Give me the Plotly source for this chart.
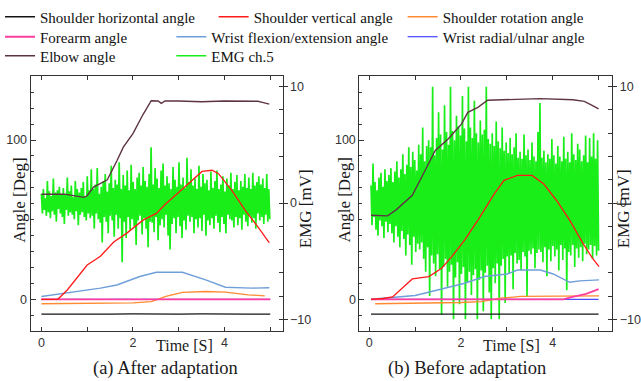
import plotly.graph_objects as go

W, H = 641, 381

# ---------------- data: (a) After adaptation ----------------
SH_T_A = [0, 0.5, 1.0, 1.5, 2.0, 2.5, 3.0, 3.5, 4.0, 4.5, 5.0]
SH_A = [-9.3, -9.4, -9.3, -9.3, -9.2, -9.4, -9.3, -9.2, -9.4, -9.3, -9.3]
SV_T_A = [0, 0.36, 0.57, 0.79, 1.0, 1.29, 1.58, 1.86, 2.22, 2.51, 2.72, 3.01, 3.3, 3.51, 3.73, 3.87, 4.16, 4.45, 4.73, 4.98]
SV_A = [0, 0, 6, 14, 21.5, 27, 36, 41.4, 49.7, 53.9, 60, 67.4, 74.7, 80.3, 81, 78.9, 68.4, 56, 45.5, 35.5]
SR_T_A = [0, 0.5, 1.0, 1.5, 2.0, 2.4, 2.72, 3.08, 3.59, 4.02, 4.52, 4.88]
SR_A = [-2.8, -2.7, -2.6, -2.5, -2.2, -1.4, 1.8, 4.3, 4.9, 4.5, 2.8, 2.2]
FA_T_A = [0, 2.5, 5.0]
FA_A = [0, 0, 0]
WFE_T_A = [0, 0.57, 1.29, 1.65, 2.15, 2.51, 3.08, 3.59, 4.02, 4.59, 4.98]
WFE_A = [1.8, 3.9, 7, 9, 14.3, 17, 17, 12.2, 7.6, 7, 7.3]
WRU_T_A = [0, 2.5, 5.0]
WRU_A = [0, 0, 0]
EL_T_A = [0, 0.5, 0.93, 1.0, 1.14, 1.3, 1.44, 1.65, 1.79, 2.0, 2.22, 2.40, 2.55, 2.62, 2.7, 3.0, 3.5, 4.0, 4.5, 4.73, 4.85, 4.98]
EL_A = [66, 66, 64, 65, 70.5, 73, 75, 87, 95.5, 104, 116, 124.7, 124.5, 123, 124.5, 124.5, 124, 124.5, 124.5, 124.3, 123.5, 122.5]
EMG_START_A, EMG_END_A = 0.0, 4.99
EMG_A = [
    0.8, -0.9, 1.2, -0.6, 0.4, -1.1, 1.9, -0.8, 1.0, -1.3,
    0.6, -0.7, 2.1, -1.0, 0.9, -1.6, 1.1, -0.5, 1.4, -0.9,
    0.7, -1.2, 1.3, -1.8, 0.8, -0.6, 2.2, -1.1, 1.0, -0.8,
    1.5, -1.0, 0.5, -1.4, 1.9, -0.7, 1.2, -1.9, 0.9, -1.0,
    1.3, -0.8, 1.8, -1.2, 0.6, -1.5, 2.3, -0.9, 1.1, -1.3,
    2.9, -1.1, 1.2, -2.2, 1.6, -0.9, 3.0, -1.4, 0.8, -1.7,
    1.4, -3.4, 1.9, -1.2, 2.5, -1.6, 1.0, -2.6, 1.7, -1.1,
    3.2, -1.5, 1.3, -2.9, 2.0, -1.0, 1.6, -2.2, 3.5, -1.3,
    1.2, -5.1, 2.4, -1.6, 1.5, -3.0, 2.8, -1.2, 1.1, -2.4,
    3.3, -1.4, 1.8, -2.0, 1.2, -3.6, 2.2, -1.5, 2.6, -1.1,
    1.5, -2.7, 3.1, -1.3, 1.9, -2.2, 1.4, -3.8, 2.5, -1.6,
    4.8, -1.7, 1.6, -2.5, 3.0, -1.2, 2.1, -3.2, 1.3, -1.9,
    2.8, -1.4, 3.4, -2.1, 1.5, -1.0, 2.3, -2.8, 1.7, -4.0,
    1.2, -1.8, 3.1, -1.3, 2.0, -2.6, 1.4, -1.2, 3.5, -2.0,
    1.6, -3.0, 2.2, -1.5, 1.3, -2.3, 3.9, -1.1, 1.8, -1.6,
    2.9, -1.2, 1.5, -2.6, 2.1, -1.4, 1.2, -2.1, 3.2, -1.3,
    1.4, -2.4, 2.5, -1.0, 1.7, -2.8, 2.0, -1.5, 1.1, -1.9,
    2.7, -1.3, 1.3, -2.2, 1.9, -1.1, 2.8, -1.7, 1.2, -2.5,
    1.6, -1.2, 2.3, -1.8, 1.0, -2.6, 2.1, -1.0, 1.5, -1.4,
    2.6, -1.5, 1.2, -2.1, 1.8, -1.2, 2.4, -1.9, 1.1, -1.3,
    1.9, -2.3, 1.4, -1.0, 2.5, -1.6, 1.3, -2.0, 2.2, -1.1,
    1.2, -1.7, 2.6, -1.3, 1.5, -2.2, 1.8, -0.9, 2.3, -1.5,
    1.6, -1.2, 2.1, -1.8, 1.3, -1.0, 2.5, -1.6, 1.2, -1.4,
]

# ---------------- data: (b) Before adaptation ----------------
SH_T_B = [0.04, 0.5, 1.0, 1.5, 2.0, 2.5, 3.0, 3.5, 4.0, 4.5, 5.0]
SH_B = [-9.3, -9.3, -9.2, -9.4, -9.3, -9.3, -9.2, -9.4, -9.3, -9.2, -9.3]
SV_T_B = [0.04, 0.3, 0.51, 0.72, 0.94, 1.3, 1.36, 1.58, 1.80, 2.08, 2.37, 2.55, 2.73, 2.94, 3.23, 3.55, 3.80, 4.08, 4.37, 4.66, 4.87, 5.01]
SV_B = [0, 0.5, 1.5, 7, 12.8, 14.3, 15.3, 19.5, 26.8, 37.2, 49.7, 58, 66.4, 74.7, 77.8, 77.8, 72.6, 62.2, 49.7, 35.1, 25.7, 20.5]
SR_T_B = [0.13, 1.0, 2.0, 2.44, 2.87, 3.30, 4.0, 5.01]
SR_B = [-2.8, -2.6, -2.0, -1.4, 0.7, 1.8, 2.1, 2.2]
FA_T_B = [0.04, 4.23, 4.41, 4.73, 5.0]
FA_B = [0, 0, 1.4, 3.4, 6.4]
WFE_T_B = [0.04, 0.51, 1.0, 1.36, 1.8, 2.08, 2.51, 3.01, 3.23, 3.73, 4.01, 4.37, 4.59, 5.01]
WFE_B = [0, 1.1, 2.4, 4.9, 8, 10.1, 14.3, 15.9, 18.4, 18.4, 15.9, 10.7, 11.6, 12.2]
WRU_T_B = [0.04, 4.23, 5.0]
WRU_B = [0, 0, 0]
EL_T_B = [0.04, 0.4, 0.58, 0.94, 1.22, 1.44, 1.72, 2.01, 2.15, 2.37, 2.58, 3.15, 3.73, 4.44, 4.69, 4.87, 5.0]
EL_B = [52.8, 52.4, 56, 65.3, 81, 93.4, 100.7, 110, 117.4, 120.5, 125, 125.7, 126, 125.3, 124.3, 121.6, 119.5]
EMG_START_B, EMG_END_B = 0.04, 5.0
EMG_B = [
    1.5, -1.9, 3.4, -1.2, 1.8, -2.3, 1.1, -2.8, 2.2, -1.5,
    2.6, -2.0, 1.4, -3.0, 2.9, -1.6, 1.9, -2.5, 2.4, -1.8,
    3.0, -2.6, 1.8, -3.4, 2.7, -2.0, 3.6, -2.9, 2.2, -3.8,
    2.9, -2.4, 4.2, -3.1, 2.5, -4.5, 3.3, -2.7, 4.8, -3.6,
    3.1, -5.3, 4.4, -2.9, 3.7, -4.2, 2.8, -3.5, 5.0, -4.0,
    4.2, -3.4, 6.5, -4.8, 3.6, -5.9, 4.9, -3.8, 5.4, -8.0,
    4.8, -4.5, 10.0, -5.2, 4.1, -6.3, 5.6, -4.4, 7.8, -5.7,
    5.9, -9.6, 4.6, -5.5, 8.4, -4.8, 6.1, -7.2, 5.0, -5.9,
    10.0, -5.3, 6.2, -10.0, 5.4, -6.4, 7.5, -5.1, 6.6, -8.7,
    5.8, -6.1, 9.2, -5.5, 6.4, -10.0, 5.3, -6.8, 10.0, -5.9,
    6.5, -7.9, 5.6, -6.2, 8.8, -5.7, 6.0, -10.0, 5.2, -6.6,
    7.1, -5.8, 5.9, -9.3, 6.3, -6.0, 10.0, -5.4, 5.5, -7.7,
    5.1, -10.0, 6.0, -5.6, 4.9, -6.9, 7.0, -5.2, 5.3, -10.0,
    4.7, -5.4, 6.5, -4.8, 4.5, -8.6, 5.2, -4.6, 4.3, -6.1,
    5.6, -4.5, 4.2, -7.4, 4.8, -4.3, 6.0, -5.2, 3.9, -4.9,
    4.4, -5.8, 3.8, -4.2, 5.9, -4.6, 4.1, -8.0, 4.6, -4.1,
    3.7, -4.4, 5.2, -3.9, 4.0, -5.6, 3.6, -4.3, 6.1, -4.0,
    8.6, -4.2, 3.9, -5.1, 4.5, -3.8, 3.5, -6.3, 4.2, -4.0,
    3.8, -5.0, 5.5, -3.7, 4.1, -4.6, 3.4, -4.0, 4.9, -5.8,
    4.0, -3.6, 3.6, -4.9, 5.7, -3.9, 3.8, -7.5, 4.4, -4.2,
    3.5, -4.5, 6.0, -3.6, 4.2, -5.5, 3.7, -3.9, 5.1, -4.7,
    4.6, -3.8, 3.6, -5.0, 4.1, -3.5, 5.8, -4.4, 3.5, -4.0,
    5.6, -3.6, 4.0, -4.8, 6.0, -3.7, 3.8, -4.5, 5.4, -4.1,
]

NAMES = ["Shoulder horizontal angle", "Shoulder vertical angle", "Shoulder rotation angle",
         "Forearm angle", "Wrist flexion/extension angle", "Wrist radial/ulnar angle",
         "Elbow angle", "EMG ch.5"]
COLORS = ["#141414", "#ff1a1a", "#ff8a30", "#ff3fa0", "#6f9fd8", "#1f1fff", "#5e3442", "#19ee19"]
WIDTHS = [1.3, 1.3, 1.3, 1.8, 1.4, 1.0, 1.4]

# legend item placement (text left x px, row centre y px)
LEG_POS = [(38, 17), (255, 17), (447, 17), (38, 37), (212, 37), (447, 37), (38, 56), (212, 56)]


def px(x):
    return x / W


def py(y):
    return 1 - y / H


fig = go.Figure()

panels = [
    dict(xa="x", emg="y", ang="y2", show=True,
         series=[(SH_T_A, SH_A), (SV_T_A, SV_A), (SR_T_A, SR_A), (FA_T_A, FA_A),
                 (WFE_T_A, WFE_A), (WRU_T_A, WRU_A), (EL_T_A, EL_A)],
         emg_vals=EMG_A, emg_t=(EMG_START_A, EMG_END_A)),
    dict(xa="x2", emg="y3", ang="y4", show=False,
         series=[(SH_T_B, SH_B), (SV_T_B, SV_B), (SR_T_B, SR_B), (FA_T_B, FA_B),
                 (WFE_T_B, WFE_B), (WRU_T_B, WRU_B), (EL_T_B, EL_B)],
         emg_vals=EMG_B, emg_t=(EMG_START_B, EMG_END_B)),
]

draw_order = [5, 0, 2, 4, 3, 1, 6]

for p in panels:
    n = len(p["emg_vals"])
    t0, t1 = p["emg_t"]
    et = [t0 + i * (t1 - t0) / (n - 1) for i in range(n)]
    fig.add_trace(go.Scatter(x=et, y=p["emg_vals"], mode="lines", name=NAMES[7],
                             line=dict(color=COLORS[7], width=1.7),
                             xaxis=p["xa"], yaxis=p["emg"], showlegend=p["show"],
                             legend="legend8"))
    for i in draw_order:
        tx, ty = p["series"][i]
        fig.add_trace(go.Scatter(x=tx, y=ty, mode="lines", name=NAMES[i],
                                 line=dict(color=COLORS[i], width=WIDTHS[i]),
                                 xaxis=p["xa"], yaxis=p["ang"], showlegend=p["show"],
                                 legend="legend" if i == 0 else "legend%d" % (i + 1)))

AXC = "#333333"
TICKF = dict(family="Liberation Sans, Arial", size=12.5, color="#333333")

yd = [50 / H, 305 / H]


def xaxis_cfg(dom, rng):
    return dict(domain=dom, range=rng, showgrid=False, zeroline=False, showline=True,
                linecolor=AXC, linewidth=1, mirror="allticks", ticks="inside", ticklen=4,
                tickcolor=AXC, tick0=0, dtick=2, tickfont=TICKF,
                minor=dict(ticks="inside", dtick=1, tick0=0, ticklen=4, tickcolor=AXC))


def emg_cfg(anchor):
    return dict(domain=yd, range=[-11.0, 10.92], side="right", anchor=anchor,
                showgrid=False, zeroline=False, showline=True, linecolor=AXC,
                ticks="outside", ticklen=4, tickcolor=AXC, tick0=0, dtick=10,
                tickfont=TICKF,
                minor=dict(ticks="inside", dtick=2, tick0=0, ticklen=4, tickcolor=AXC))


def ang_cfg(anchor, over):
    return dict(domain=yd, range=[-19.9, 140.2], side="left", anchor=anchor, overlaying=over,
                showgrid=False, zeroline=False, showline=True, linecolor=AXC, mirror=True,
                ticks="inside", ticklen=5, tickcolor=AXC, tick0=0, dtick=100,
                tickfont=TICKF,
                minor=dict(ticks="inside", dtick=10, tick0=0, ticklen=3, tickcolor=AXC))


layout = dict(
    width=W, height=H, margin=dict(l=0, r=0, t=0, b=0),
    paper_bgcolor="white", plot_bgcolor="rgba(0,0,0,0)",
    showlegend=True,
    xaxis=xaxis_cfg([px(29), px(285)], [-0.237, 5.269]),
    xaxis2=xaxis_cfg([px(363), px(620)], [-0.215, 5.30]),
    yaxis=emg_cfg("x"),
    yaxis2=ang_cfg("x", "y"),
    yaxis3=emg_cfg("x2"),
    yaxis4=ang_cfg("x2", "y3"),
)
layout["xaxis2"]["anchor"] = "y3"
layout["xaxis"]["anchor"] = "y"

for k, (tx, yc) in enumerate(LEG_POS):
    key = "legend" if k == 0 else "legend%d" % (k + 1)
    layout[key] = dict(x=px(tx - 40), y=py(yc), xanchor="left", yanchor="middle",
                       bgcolor="rgba(0,0,0,0)", borderwidth=0, itemwidth=30,
                       font=dict(family="Liberation Serif, Times New Roman", size=15, color="#111111"))

SERIF = "Liberation Serif, Times New Roman"
ann = []


def add_text(text, x, y, size, angle=0):
    ann.append(dict(text=text, x=px(x), y=py(y), xref="paper", yref="paper",
                    showarrow=False, textangle=angle, xanchor="center", yanchor="middle",
                    font=dict(family=SERIF, size=size, color="#1a1a1a")))


add_text("Angle [Deg]", 17, 200, 17, -90)
add_text("EMG [mV]", 309, 209, 17, -90)
add_text("Angle [Deg]", 347, 200, 17, -90)
add_text("EMG [mV]", 632, 209, 17, -90)
add_text("Time [S]", 185, 345, 16)
add_text("Time [S]", 518, 345, 16)
add_text("(a) After adaptation", 166, 368, 18.5)
add_text("(b) Before adaptation", 472, 368, 18.5)
layout["annotations"] = ann

fig.update_layout(**layout)
fig.write_html("out.html", config={"displayModeBar": False},
               post_script="document.body.style.margin='0px';document.body.style.overflow='hidden';")
